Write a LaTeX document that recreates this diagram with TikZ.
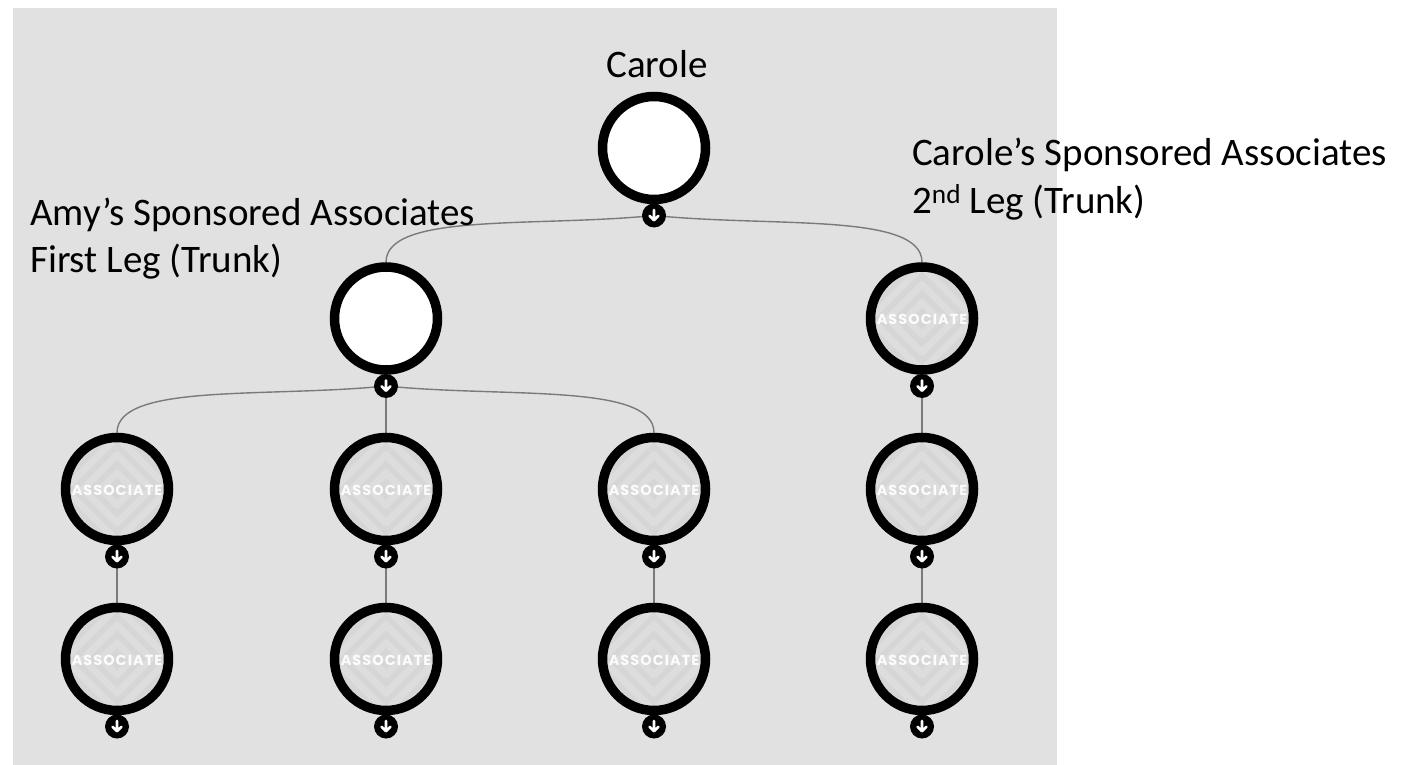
\documentclass[tikz,border=0pt]{standalone}
\usepackage{fontspec}
\setmainfont{Carlito}
\newfontfamily\assocfont[LetterSpace=7]{Poppins}
\usetikzlibrary{backgrounds}

\definecolor{panelgray}{HTML}{E1E1E1}
\definecolor{assocgray}{HTML}{D6D6D6}
\definecolor{linkgray}{HTML}{7A7A7A}

\tikzset{
  member/.style={circle, draw=black, line width=9.5pt, fill=white,
    minimum size=103pt, inner sep=0pt},
  associate/.style={member, fill=assocgray,
    path picture={
      \begin{scope}[shift={(path picture bounding box.center)}]
        \foreach \r in {16,34,52}
          \draw[white, opacity=.18, line width=7pt, line join=round]
            (0,-\r) -- (\r,0) -- (0,\r) -- (-\r,0) -- cycle;
        \node[text=white, opacity=.92, font=\assocfont\bfseries\fontsize{14.5}{15}\selectfont]
          at (0,1) {ASSOCIATE};
      \end{scope}
    }},
  badge/.style={circle, fill=black, minimum size=24pt, inner sep=0pt,
    path picture={
      \begin{scope}[shift={(path picture bounding box.center)}]
        \draw[white, line width=2.6pt, line cap=round, line join=round]
          (0,-5.5) -- (0,4.5) (-4.4,0.3) -- (0,4.7) -- (4.4,0.3);
      \end{scope}
    }},
  link/.style={draw=linkgray, line width=1.4pt},
  lbl/.style={font=\fontsize{39}{48}\selectfont, inner sep=0pt, text=black},
}

\begin{document}
\begin{tikzpicture}[x=1pt, y=-1pt]
\useasboundingbox (0,0) rectangle (1416,765);
\begin{scope}[on background layer]
  \fill[panelgray] (13,8) rectangle (1057,765);
\end{scope}

% top of the tree
\node[member] (carole) at (654,148) {};
\node[badge] (carole-b) at (654,215.5) {};

% first leg
\node[member] (amy) at (386,318.5) {};
\node[badge] (amy-b) at (386,386) {};

% second leg (trunk)
\node[associate] (r1) at (922,318.5) {};
\node[badge] (r1-b) at (922,386) {};
\node[associate] (r2) at (922,489) {};
\node[badge] (r2-b) at (922,556.5) {};
\node[associate] (r3) at (922,659) {};
\node[badge] (r3-b) at (922,726.5) {};

% Amy's downline, three columns of two
\foreach \c/\x in {a/117, b/386, c/654} {
  \node[associate] (\c1) at (\x,489) {};
  \node[badge] (\c1-b) at (\x,556.5) {};
  \node[associate] (\c2) at (\x,659) {};
  \node[badge] (\c2-b) at (\x,726.5) {};
}

% connectors
\begin{scope}[on background layer]
  \draw[link] (carole-b.center) .. controls +(-120,12) and +(0,-50) .. (amy.north);
  \draw[link] (carole-b.center) .. controls +(120,12) and +(0,-50) .. (r1.north);
  \draw[link] (amy-b.center) .. controls +(-120,12) and +(0,-50) .. (a1.north);
  \draw[link] (amy-b.center) -- (b1.north);
  \draw[link] (amy-b.center) .. controls +(120,12) and +(0,-50) .. (c1.north);
  \foreach \c in {a,b,c,r}
    \draw[link] (\c1-b.center) -- (\c2.north);
  \draw[link] (r1-b.center) -- (r2.north);
  \draw[link] (r2-b.center) -- (r3.north);
\end{scope}

% labels
\node[lbl, anchor=base] (carole-lbl) at (657,78) {Carole};
\node[lbl, anchor=base west] (amy-lbl1) at (30,225) {Amy’s Sponsored Associates};
\node[lbl, anchor=base west] (amy-lbl2) at (30,272) {First Leg (Trunk)};
\node[lbl, anchor=base west] (leg2-lbl1) at (912,165) {Carole’s Sponsored Associates};
\node[lbl, anchor=base west] (leg2-lbl2) at (912,213) {2\textsuperscript{nd} Leg (Trunk)};
\end{tikzpicture}
\end{document}
